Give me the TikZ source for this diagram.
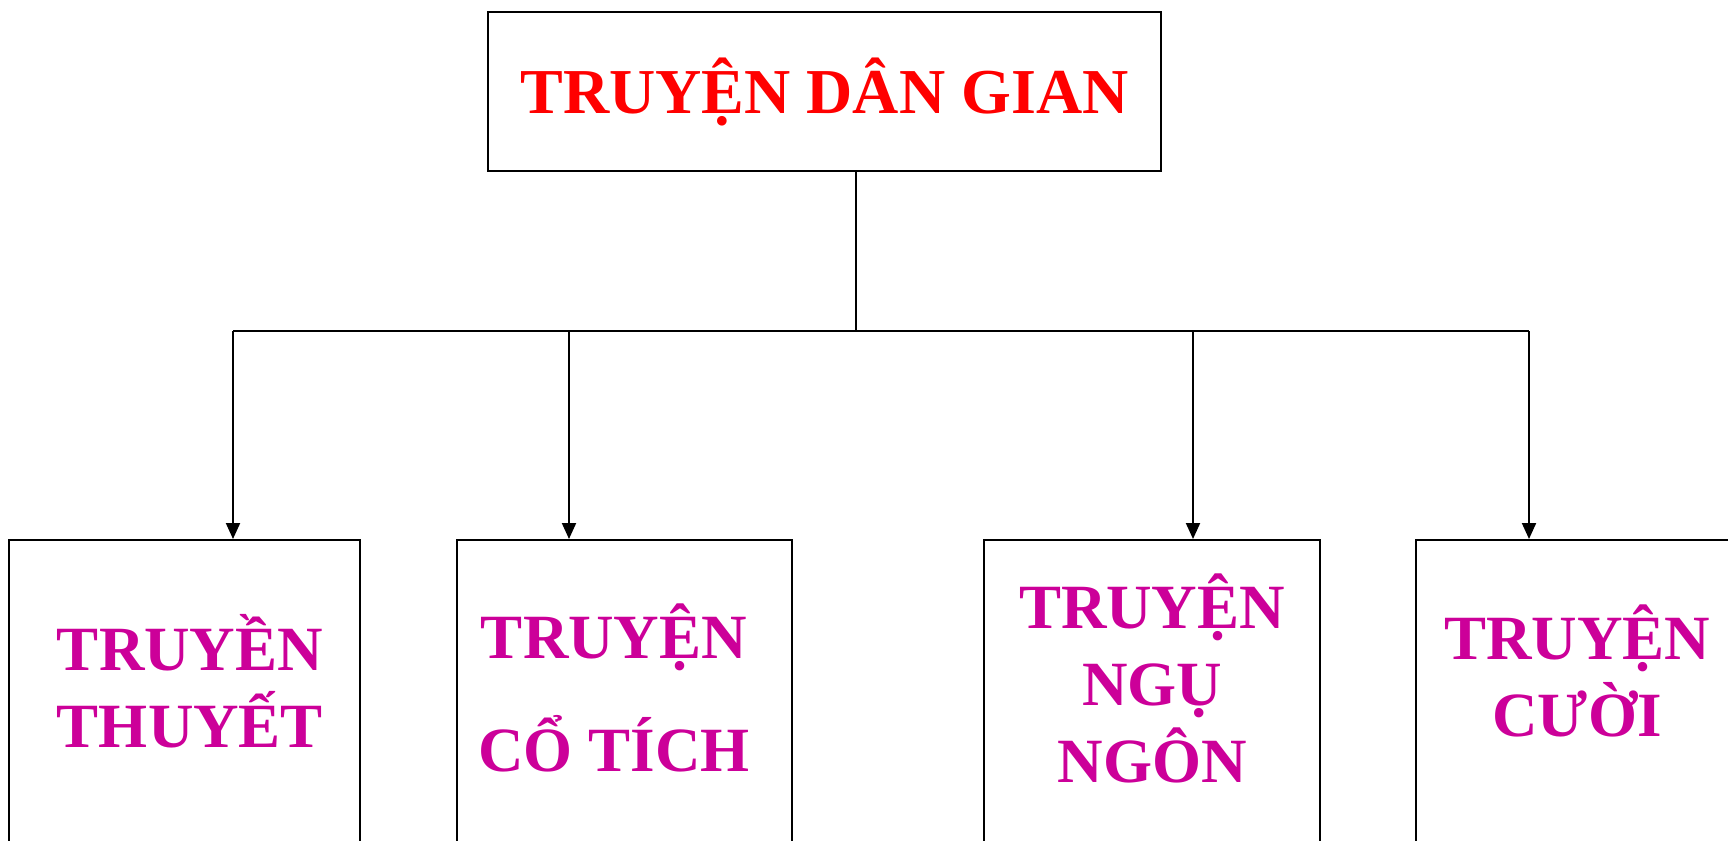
\documentclass[tikz,border=0pt]{standalone}
\usepackage{fontspec}
\setmainfont{Liberation Serif}
\usetikzlibrary{arrows.meta}
\definecolor{titlered}{RGB}{255,0,0}
\definecolor{kindpink}{RGB}{204,0,153}

\begin{document}
\begin{tikzpicture}[x=0.5pt,y=-0.5pt]
	\tikzstyle{root} = [ draw, rectangle, line width=1.1pt, inner sep=0pt, minimum width=336.5pt, minimum height=79.5pt, font={\fontsize{32}{38}\selectfont\bfseries}, text=titlered ];
	\tikzstyle{kind} = [ draw, rectangle, line width=1.1pt, inner sep=0pt, anchor=north, minimum height=170pt ];
	\tikzstyle{kindname} = [ align=center, anchor=base, font={\fontsize{31.5}{38.5}\selectfont\bfseries}, text=kindpink ];
	\tikzstyle{branch} = [ -{Triangle[length=8pt,width=7pt]}, line width=1pt ];

	\useasboundingbox (0,0) rectangle (1728,840);
	\clip (0,0) rectangle (1728,840);

	\node[root] (root) at (824.5,91.5) {TRUYỆN DÂN GIAN};

	% the four kinds
	\node[kind, minimum width=175.5pt] (k1) at (184.5,539) {};
	\node[kind, minimum width=167.5pt] (k2) at (624.5,539) {};
	\node[kind, minimum width=168pt] (k3) at (1152,539) {};
	\node[kind, minimum width=168pt] (k4) at (1584,539) {};

	% base = last line
	\node[kindname] (n1) at (190,747) {TRUYỀN\\THUYẾT};
	\node[kindname] (n2) at (614,771) {TRUYỆN\\[18pt]CỔ TÍCH};
	\node[kindname] (n3) at (1152,782) {TRUYỆN\\NGỤ\\NGÔN};
	\node[kindname] (n4) at (1577,736) {TRUYỆN\\CƯỜI};

	\coordinate (fork) at (856,331);
	\draw[line width=1pt] (root.south -| fork) -- (fork);

	\foreach \i/\ax in {1/233, 2/569, 3/1193, 4/1529} {
		\coordinate (c\i) at (\ax,331);
		\draw[branch] (c\i) -- (c\i |- k\i.north);
	}
	\draw[line width=1pt] (c1) -- (c4);
\end{tikzpicture}
\end{document}
